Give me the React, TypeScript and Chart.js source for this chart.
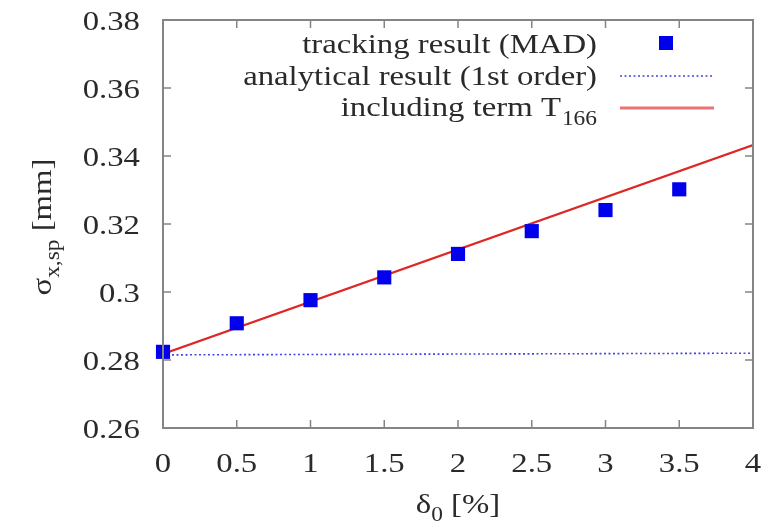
import React, { useEffect, useRef } from 'react';
import { Chart, registerables } from 'chart.js';

Chart.register(...registerables);

// ---- data ----
const deltaPercent = [0, 0.5, 1, 1.5, 2, 2.5, 3, 3.5];
const trackingMAD = [0.2824, 0.2908, 0.2976, 0.3043, 0.3112, 0.3179, 0.3241, 0.3302];
const analyticalX = [0, 4];
const analyticalY = [0.2815, 0.282];
const t166X = [0, 4];
const t166Y = [0.2818, 0.3432];
const xTickValues = [0, 0.5, 1, 1.5, 2, 2.5, 3, 3.5, 4];
const xTickLabels = ['0', '0.5', '1', '1.5', '2', '2.5', '3', '3.5', '4'];
const yTickValues = [0.26, 0.28, 0.3, 0.32, 0.34, 0.36, 0.38];
const yTickLabels = ['0.26', '0.28', '0.3', '0.32', '0.34', '0.36', '0.38'];
const legendLabels = ['tracking result (MAD)', 'analytical result (1st order)', 'including term T'];
const legendSub = '166';

const FONT = '"Liberation Serif"';
const SX = 1.17;
const TEXT = '#2a2a2a';
const FRAME = '#858585';
const BLUE = 'rgb(0,0,235)';
const DOT_BLUE = 'rgb(70,70,225)';
const RED = 'rgb(222,40,40)';

function sText(ctx: CanvasRenderingContext2D, t: string, x: number, y: number, size: number) {
  ctx.save();
  ctx.font = `${size}px ${FONT}`;
  ctx.translate(x, y);
  ctx.scale(SX, 1);
  ctx.textAlign = 'left';
  ctx.textBaseline = 'alphabetic';
  ctx.fillText(t, 0, 0);
  ctx.restore();
}
function sWidth(ctx: CanvasRenderingContext2D, t: string, size: number) {
  ctx.save();
  ctx.font = `${size}px ${FONT}`;
  const w = ctx.measureText(t).width * SX;
  ctx.restore();
  return w;
}

const decorPlugin = {
  id: 'decor',
  afterDraw(chart: any) {
    const ctx: CanvasRenderingContext2D = chart.ctx;
    const { left, right, top, bottom } = chart.chartArea;
    const xs = chart.scales.x;
    const ys = chart.scales.y;
    ctx.save();
    // frame
    ctx.strokeStyle = FRAME;
    ctx.lineWidth = 2;
    ctx.strokeRect(left, top, right - left, bottom - top);
    // inward ticks
    ctx.lineWidth = 1.5;
    ctx.beginPath();
    const tl = 8;
    xTickValues.forEach((v) => {
      const px = xs.getPixelForValue(v);
      ctx.moveTo(px, bottom);
      ctx.lineTo(px, bottom - tl);
      ctx.moveTo(px, top);
      ctx.lineTo(px, top + tl);
    });
    yTickValues.forEach((v) => {
      const py = ys.getPixelForValue(v);
      ctx.moveTo(left, py);
      ctx.lineTo(left + tl, py);
      ctx.moveTo(right, py);
      ctx.lineTo(right - tl, py);
    });
    ctx.stroke();

    // tick labels (positions from the chart's scales)
    ctx.fillStyle = TEXT;
    const ts = 28;
    xTickValues.forEach((v, i) => {
      const px = xs.getPixelForValue(v);
      const w = sWidth(ctx, xTickLabels[i], ts);
      sText(ctx, xTickLabels[i], px - w / 2, bottom + 44, ts);
    });
    yTickValues.forEach((v, i) => {
      const py = ys.getPixelForValue(v);
      const w = sWidth(ctx, yTickLabels[i], ts);
      sText(ctx, yTickLabels[i], left - 23 - w, py + 9.5, ts);
    });

    // legend
    const rightEdge = 597;
    const base = [53, 84.5, 116];
    const size = 28;
    sText(ctx, legendLabels[0], rightEdge - sWidth(ctx, legendLabels[0], size), base[0], size);
    ctx.fillStyle = BLUE;
    ctx.fillRect(666 - 7, 43 - 7, 14, 14);
    ctx.fillStyle = TEXT;
    sText(ctx, legendLabels[1], rightEdge - sWidth(ctx, legendLabels[1], size), base[1], size);
    ctx.strokeStyle = DOT_BLUE;
    ctx.lineWidth = 1.6;
    ctx.setLineDash([2, 2.5]);
    ctx.beginPath();
    ctx.moveTo(620, 76);
    ctx.lineTo(713, 76);
    ctx.stroke();
    ctx.setLineDash([]);
    ctx.fillStyle = TEXT;
    const subW = sWidth(ctx, legendSub, 20);
    const mainW = sWidth(ctx, legendLabels[2], size);
    sText(ctx, legendLabels[2], rightEdge - subW - mainW - 1, base[2], size);
    sText(ctx, legendSub, rightEdge - subW, base[2] + 9, 20);
    ctx.strokeStyle = RED;
    ctx.globalAlpha = 0.65;
    ctx.lineWidth = 3;
    ctx.beginPath();
    ctx.moveTo(620, 108);
    ctx.lineTo(714, 108);
    ctx.stroke();
    ctx.globalAlpha = 1;

    // x title: δ0 [%]
    ctx.fillStyle = TEXT;
    {
      const a = 'δ', b = '0', c = ' [%]';
      const wa = sWidth(ctx, a, 28), wb = sWidth(ctx, b, 20), wc = sWidth(ctx, c, 28);
      const total = wa + wb + wc;
      const cx = (left + right) / 2;
      let x = cx - total / 2;
      sText(ctx, a, x, 513, 28); x += wa;
      sText(ctx, b, x, 521, 20); x += wb;
      sText(ctx, c, x, 513, 28);
    }
    // y title: σx,sp [mm]
    {
      const a = 'σ', b = 'x,sp', c = ' [mm]';
      const wa = sWidth(ctx, a, 28), wb = sWidth(ctx, b, 20), wc = sWidth(ctx, c, 28);
      const total = wa + wb + wc;
      ctx.save();
      ctx.translate(51, (top + bottom) / 2 + 3);
      ctx.rotate(-Math.PI / 2);
      let x = -total / 2;
      sText(ctx, a, x, 0, 28); x += wa;
      sText(ctx, b, x, 8, 20); x += wb;
      sText(ctx, c, x, 0, 28);
      ctx.restore();
    }
    ctx.restore();
  },
};

export default function App() {
  const ref = useRef<HTMLCanvasElement | null>(null);
  useEffect(() => {
    let chart: any = null;
    let cancelled = false;
    const build = () => {
      if (cancelled || !ref.current) return;
      chart = new Chart(ref.current, {
        type: 'scatter',
        data: {
          datasets: [
            {
              label: legendLabels[0],
              data: deltaPercent.map((x, i) => ({ x, y: trackingMAD[i] })),
              pointStyle: 'rect',
              pointRadius: 10,
              backgroundColor: BLUE,
              borderColor: BLUE,
              borderWidth: 0,
              showLine: false,
              clip: false,
              order: 0,
            },
            {
              label: legendLabels[1],
              data: analyticalX.map((x, i) => ({ x, y: analyticalY[i] })),
              showLine: true,
              borderColor: DOT_BLUE,
              borderWidth: 1.6,
              borderDash: [2, 2.5],
              pointRadius: 0,
              order: 2,
            },
            {
              label: legendLabels[2] + legendSub,
              data: t166X.map((x, i) => ({ x, y: t166Y[i] })),
              showLine: true,
              borderColor: RED,
              borderWidth: 2.2,
              pointRadius: 0,
              order: 1,
            },
          ],
        },
        options: {
          animation: false,
          responsive: false,
          devicePixelRatio: 1,
          layout: { padding: { top: 20, right: 29, left: 0, bottom: 0 } },
          plugins: { legend: { display: false }, tooltip: { enabled: false } },
          scales: {
            x: {
              type: 'linear',
              min: 0,
              max: 4,
              afterFit: (s: any) => {
                s.height = 98;
                s.paddingLeft = 0;
                s.paddingRight = 0;
              },
              afterBuildTicks: (s: any) => { s.ticks = xTickValues.map((v) => ({ value: v })); },
              grid: { display: false, drawTicks: false },
              border: { display: false },
              ticks: { display: false },
            },
            y: {
              type: 'linear',
              min: 0.26,
              max: 0.38,
              afterFit: (s: any) => {
                s.width = 163;
                s.paddingTop = 0;
                s.paddingBottom = 0;
              },
              afterBuildTicks: (s: any) => { s.ticks = yTickValues.map((v) => ({ value: v })); },
              grid: { display: false, drawTicks: false },
              border: { display: false },
              ticks: { display: false },
            },
          },
        },
        plugins: [decorPlugin],
      } as any);
    };
    const fonts: any = (document as any).fonts;
    if (fonts && fonts.load) {
      Promise.all([
        fonts.load('28px "Liberation Serif"', '0.38σδ'),
        fonts.load('20px "Liberation Serif"', '166'),
      ]).then(build, build);
    } else {
      build();
    }
    return () => {
      cancelled = true;
      if (chart) chart.destroy();
    };
  }, []);
  return (
    <div style={{ position: 'fixed', left: 0, top: 0, width: 782, height: 526, background: '#fff' }}>
      <canvas ref={ref} width={782} height={526} style={{ width: 782, height: 526, display: 'block' }} />
    </div>
  );
}
